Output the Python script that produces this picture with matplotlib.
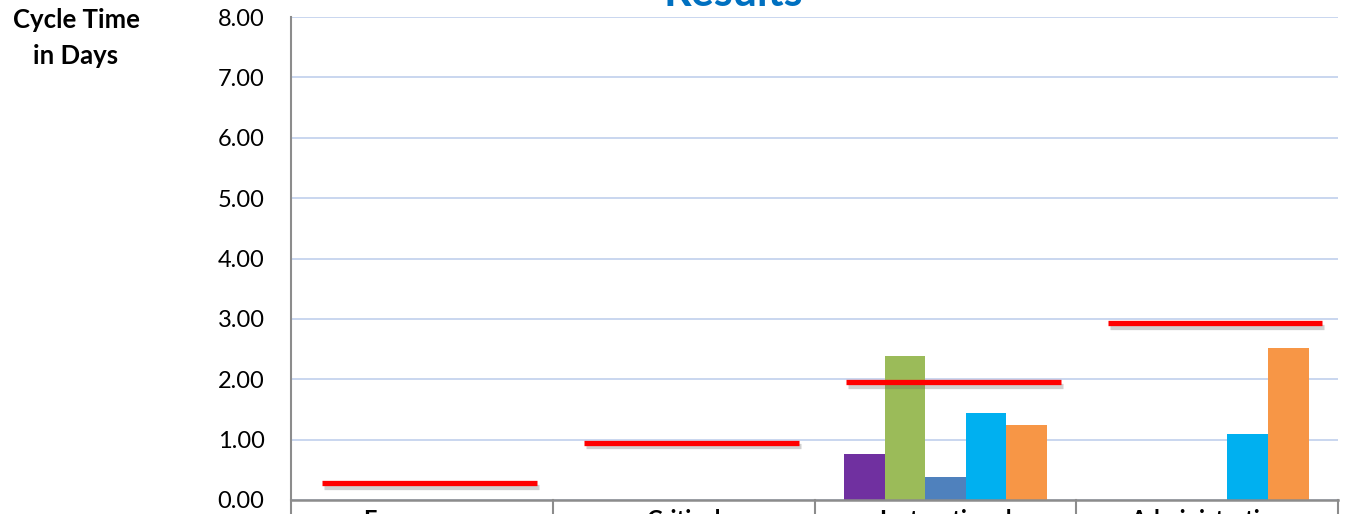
import numpy as np
import matplotlib
matplotlib.use('Agg')
import matplotlib.pyplot as plt
import matplotlib.patheffects as pe

# Categories and values
categories = ['Emergency', 'Critical', 'Instructional', 'Administrative']
series_colors = ['#7030A0', '#9BBB59', '#4F81BD', '#00B0F0', '#F79646']
series_values = [
    [0, 0, 0.76, 0],
    [0, 0, 2.38, 0],
    [0, 0, 0.38, 0],
    [0, 0, 1.44, 1.09],
    [0, 0, 1.24, 2.52],
]
targets = [0.28, 0.95, 1.95, 2.93]
yticks = [0, 1, 2, 3, 4, 5, 6, 7, 8]

plt.rcParams['font.family'] = ['Lato', 'DejaVu Sans']

W, H = 1348, 514
fig = plt.figure(figsize=(W / 100, H / 100), dpi=100)
ax = fig.add_axes([291 / W, 1 - 500 / H, (1338 - 291) / W, (500 - 17) / H])

x = np.arange(len(categories))
bw = 0.155
n = len(series_values)
for i, (vals, col) in enumerate(zip(series_values, series_colors)):
    ax.bar(x + (i - (n - 1) / 2) * bw, vals, width=bw, color=col, zorder=3)

# red target lines with a soft shadow
for xi, t in zip(x, targets):
    ax.plot([xi - 0.38, xi + 0.44], [t, t], color='#FF0000', lw=3.8, zorder=4,
            solid_capstyle='butt',
            path_effects=[pe.SimpleLineShadow(offset=(1.5, -2.5), alpha=0.3, shadow_color='#666666'),
                          pe.Normal()])

ax.set_xlim(-0.5, len(categories) - 0.5)
ax.set_ylim(0, 8)
ax.set_yticks(yticks)
ax.set_yticklabels(['%.2f' % v for v in yticks], fontsize=17)
ax.tick_params(axis='y', length=0, pad=19)
ax.set_xticks([])
ax.grid(axis='y', color='#C5D3EE', lw=1.3, zorder=0)
for s in ['top', 'right', 'bottom']:
    ax.spines[s].set_visible(False)
ax.spines['left'].set_color('#8C8C8C')
ax.spines['left'].set_linewidth(1.5)

# table-style category row below the axis
for b in np.arange(-0.5, len(categories), 1.0):
    ax.plot([b, b], [0, -0.5], color='#8C8C8C', lw=1.5, clip_on=False, zorder=5)
ax.plot([-0.5, len(categories) - 0.5], [0, 0], color='#8C8C8C', lw=1.8, clip_on=False, zorder=5)
for xi, c in zip(x, categories):
    ax.text(xi, -0.15, c, ha='center', va='top', fontsize=17, fontweight='bold', clip_on=False)

fig.text(76 / W, 1 - 20 / H, 'Cycle Time', ha='center', va='center',
         fontsize=18.5, fontweight='bold')
fig.text(76 / W, 1 - 56 / H, 'in Days', ha='center', va='center',
         fontsize=18.5, fontweight='bold')
fig.text(733 / W, 1 - 6 / H, 'Results', ha='center', va='baseline', fontsize=31,
         fontweight='bold', color='#0070C0')

fig.savefig('out.png', dpi=100)
